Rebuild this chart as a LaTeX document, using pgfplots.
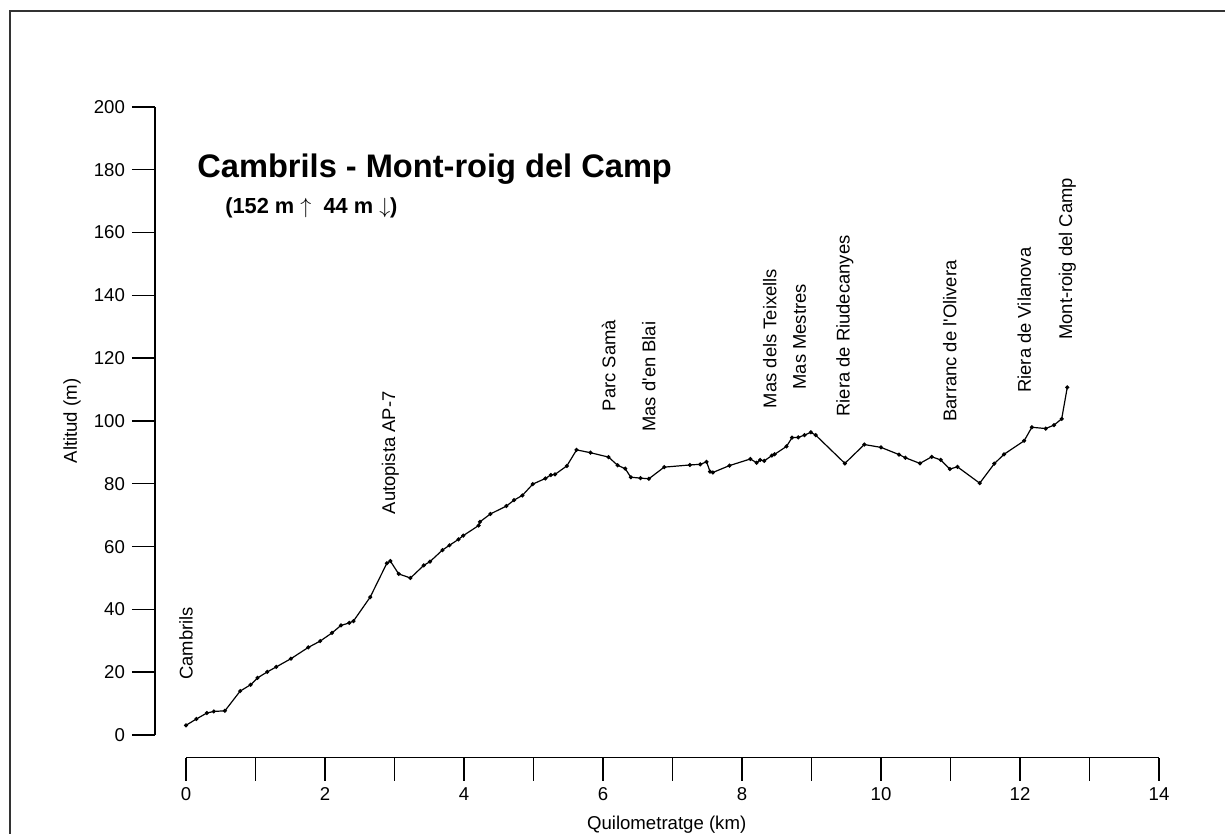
\documentclass[border=0pt]{standalone}
\usepackage{fontspec}
\setmainfont{Liberation Sans}
\usepackage{pgfplots}
\pgfplotsset{compat=1.18}
\begin{document}
\begin{tikzpicture}
\begin{axis}[name=ax, at={(0,0)}, anchor=south west,
  scale only axis, width=486.5pt, height=314pt,
  xmin=0, xmax=14, ymin=0, ymax=200,
  axis x line=bottom, axis y line=left,
  axis line style={-, line width=0.7pt, black},
  axis x line shift=11.25pt, axis y line shift=15.5pt,
  tick align=outside, major tick length=11.5pt,
  tick style={line width=0.7pt, black},
  xtick={0,1,...,14}, xticklabels={0,,2,,4,,6,,8,,10,,12,,14},
  ytick={0,20,...,200},
  /pgf/number format/assume math mode=true,
  ticklabel style={font=\fontsize{9.3}{11}\selectfont},
  xlabel={Quilometratge (km)}, ylabel={Altitud (m)},
  label style={font=\fontsize{9.3}{11}\selectfont},
  xlabel style={at={(axis description cs:0.494,-0.1497)}, anchor=base},
  ylabel style={at={(axis description cs:-0.1172,0.5)}, anchor=center},
  clip=false,
]
\addplot[black, line width=0.6pt, mark=*, mark size=0.7pt] coordinates {
(0.00,3.1) (0.15,5.1) (0.30,7.0) (0.40,7.5) (0.56,7.7) (0.78,14.0) (0.93,16.0)
(1.03,18.2) (1.17,20.1) (1.30,21.7) (1.51,24.3) (1.76,27.9) (1.93,29.9) (2.10,32.5)
(2.23,34.9) (2.35,35.7) (2.41,36.3) (2.65,43.9) (2.89,54.7) (2.94,55.4) (3.06,51.3)
(3.23,50.0) (3.42,54.0) (3.51,55.2) (3.69,58.9) (3.79,60.4) (3.92,62.3) (3.99,63.5)
(4.21,66.7) (4.23,67.9) (4.38,70.4) (4.61,72.9) (4.72,74.8) (4.84,76.3) (4.99,79.9)
(5.17,81.7) (5.25,82.8) (5.31,83.0) (5.48,85.7) (5.62,90.8) (5.82,89.9) (6.08,88.5)
(6.21,85.9) (6.32,84.8) (6.40,82.1) (6.54,81.8) (6.66,81.6) (6.88,85.3) (7.25,86.0)
(7.40,86.2) (7.49,87.0) (7.54,83.9) (7.58,83.6) (7.82,85.8) (8.12,87.9) (8.21,86.7)
(8.26,87.6) (8.32,87.3) (8.43,89.0) (8.47,89.4) (8.64,91.9) (8.72,94.7) (8.81,94.8)
(8.90,95.5) (8.99,96.4) (9.06,95.5) (9.48,86.5) (9.76,92.5) (10.00,91.6) (10.26,89.3)
(10.35,88.3) (10.56,86.5) (10.73,88.6) (10.86,87.6) (10.99,84.7) (11.10,85.4) (11.42,80.2)
(11.63,86.4) (11.77,89.4) (12.06,93.7) (12.17,98.0) (12.37,97.6) (12.49,98.7) (12.60,100.7)
(12.68,110.7)
};
\begin{scope}[every node/.style={rotate=90, anchor=west, inner sep=0pt, font=\fontsize{9.2}{11}\selectfont}]
\node at (axis cs:0.00,17.5) {Cambrils};
\node at (axis cs:2.94,70.2) {Autopista AP-7};
\node at (axis cs:6.08,103.0) {Parc Samà};
\node at (axis cs:6.66,96.5) {Mas d\textquotesingle en Blai};
\node at (axis cs:8.40,104.0) {Mas dels Teixells};
\node at (axis cs:8.83,109.9) {Mas Mestres};
\node at (axis cs:9.48,101.3) {Riera de Riudecanyes};
\node at (axis cs:10.99,99.7) {Barranc de l\textquotesingle Olivera};
\node at (axis cs:12.06,108.9) {Riera de Vilanova};
\node at (axis cs:12.68,125.8) {Mont-roig del Camp};
\end{scope}
\node[anchor=base west, inner sep=0pt, font=\bfseries\fontsize{16.3}{19}\selectfont] at (axis cs:0.158,177.4) {Cambrils - Mont-roig del Camp};
\node[anchor=base west, inner sep=0pt, font=\bfseries\fontsize{10.9}{13}\selectfont] at (axis cs:0.56,166.2) {(152 m $\uparrow$\ \ 44 m $\downarrow$)};
\end{axis}
\draw[line width=0.8pt, black!80] ([shift={(-88pt,-80pt)}]ax.south west) -- ([shift={(-88pt,362pt)}]ax.south west) -- ([shift={(560pt,362pt)}]ax.south west);
\pgfresetboundingbox
\useasboundingbox ([shift={(-93pt,-49.5pt)}]ax.south west) rectangle ([shift={(519.5pt,367.5pt)}]ax.south west);
\end{tikzpicture}
\end{document}
